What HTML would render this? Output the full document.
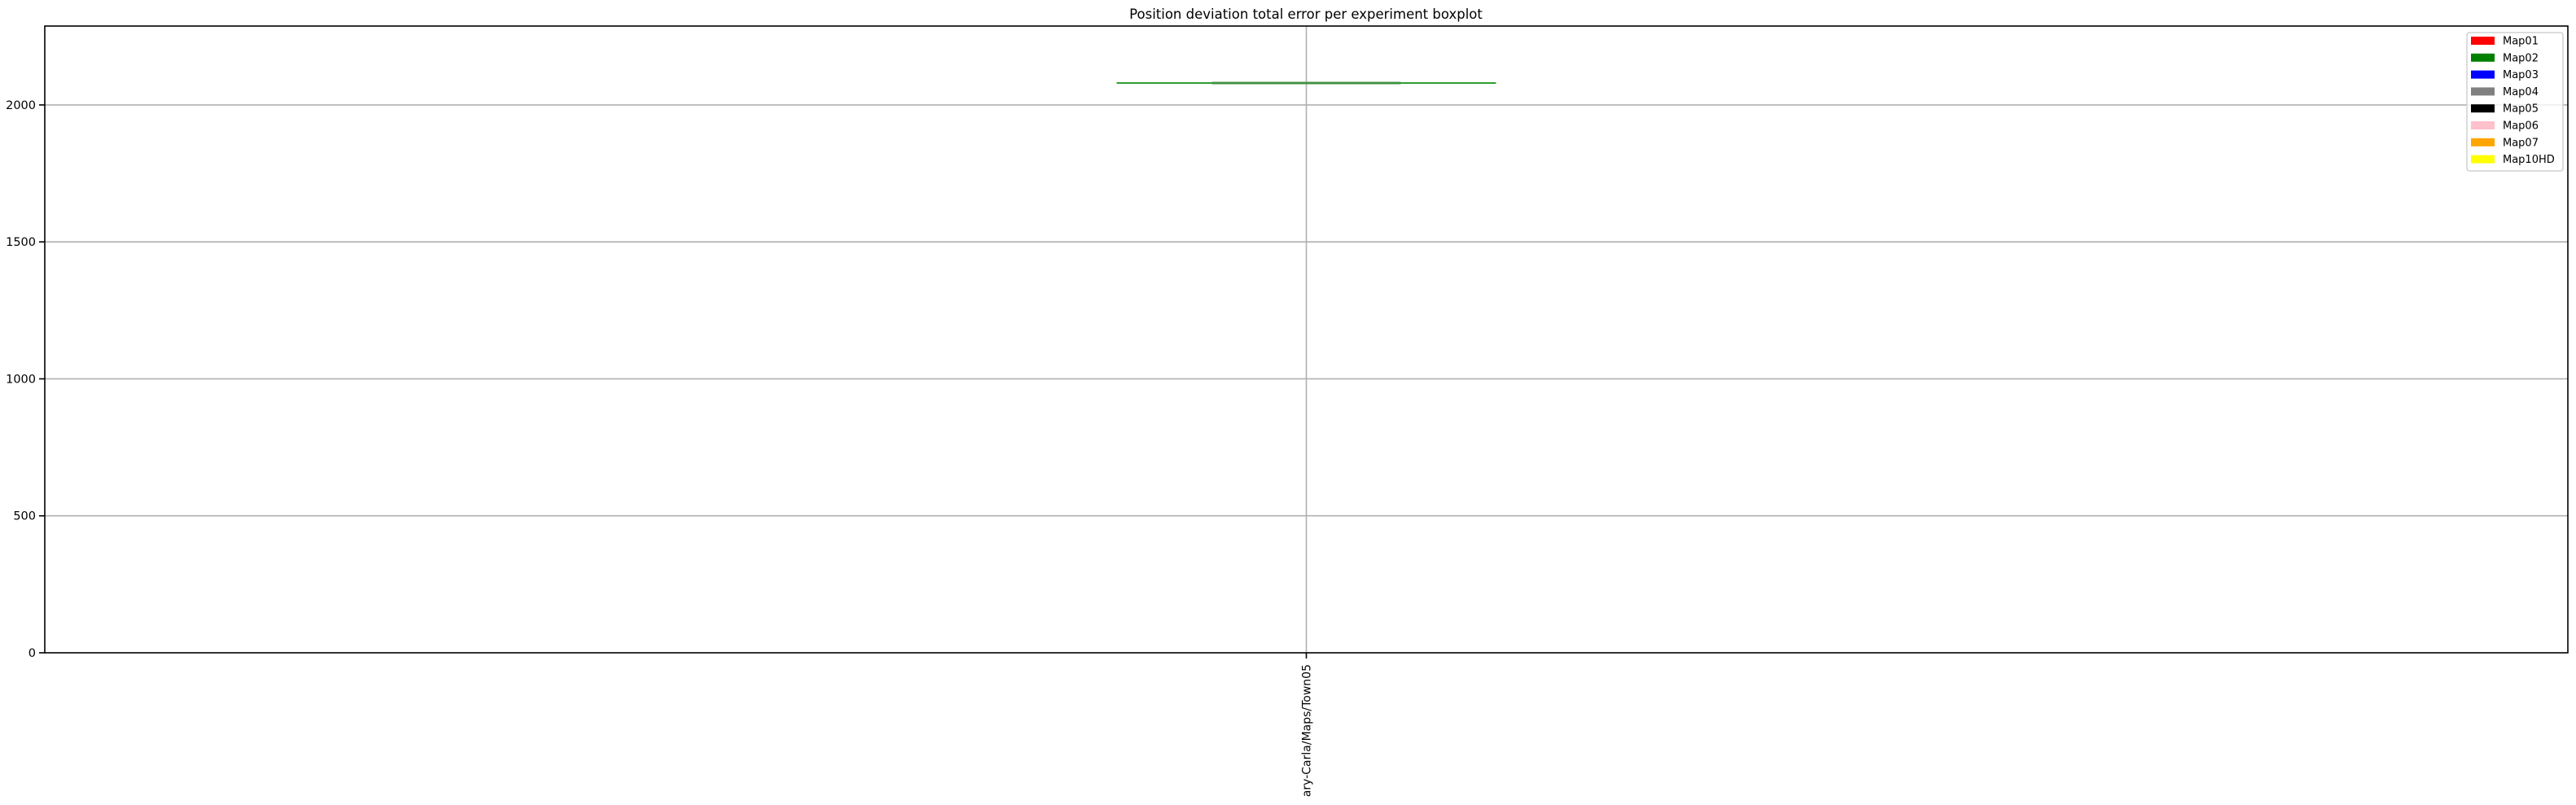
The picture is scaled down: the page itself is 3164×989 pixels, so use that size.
<!DOCTYPE html>
<html><head><meta charset="utf-8"><style>
html,body{margin:0;padding:0;background:#fff;}
svg{display:block;font-family:"DejaVu Sans","Liberation Sans",sans-serif;}
</style></head><body>
<svg id="chart" width="3164" height="989" viewBox="0 0 3164 989" xmlns="http://www.w3.org/2000/svg">
<rect width="3164" height="989" fill="#fff"/>
<text x="1604" y="23" font-size="16.5" text-anchor="middle" fill="#000">Position deviation total error per experiment boxplot</text>
<g id="grid"></g>
<g id="boxes"></g>
<g id="yaxis"></g>
<g id="xaxis"></g>
<rect x="55" y="32" width="3099" height="770" fill="none" stroke="#000" stroke-width="1.6"/>
<g id="legend"></g>
</svg>
<script>
const categories = ["ary-Carla/Maps/Town05"];
const whiskerLow = [2080];
const q1 = [2080];
const median = [2080];
const q3 = [2080];
const whiskerHigh = [2080];
const yTicks = [0, 500, 1000, 1500, 2000];
const legendLabels = ["Map01","Map02","Map03","Map04","Map05","Map06","Map07","Map10HD"];
const legendColors = ["red","green","blue","gray","black","pink","orange","yellow"];

const NS = "http://www.w3.org/2000/svg";
const L = 55, R = 3154, T = 32, B = 802, YMAX = 2288;
function y(v){ return B - v / YMAX * (B - T); }
function x(i){ return L + (i + 0.5) * (R - L) / categories.length; }
function mk(tag, attrs, parent){ const e = document.createElementNS(NS, tag); for (const k in attrs) e.setAttribute(k, attrs[k]); parent.appendChild(e); return e; }

const grid = document.getElementById('grid');
const ya = document.getElementById('yaxis');
yTicks.forEach(t => {
  const yy = y(t);
  if (t > 0) {
    const g = mk('line', {x1: L, x2: R, y1: yy, y2: yy, stroke: '#b0b0b0', 'stroke-width': 1.6}, grid);
    
    
  }
  const tk = mk('line', {x1: L - 7, x2: L, y1: yy, y2: yy, stroke: '#000', 'stroke-width': 1.6}, ya);
  
  
  const tx = mk('text', {x: L - 11, y: yy + 5, 'font-size': 14.5, 'text-anchor': 'end'}, ya);
  tx.textContent = t;
  
  
});

const xa = document.getElementById('xaxis');
const bx = document.getElementById('boxes');
categories.forEach((c, i) => {
  const cx = x(i);
  const gl = mk('line', {x1: cx, x2: cx, y1: T, y2: B, stroke: '#b0b0b0', 'stroke-width': 1.6}, grid);
  
  
  const tk = mk('line', {x1: cx, x2: cx, y1: B, y2: B + 7, stroke: '#000', 'stroke-width': 1.6}, xa);
  
  
  const tx = mk('text', {x: 0, y: 0, 'font-size': 14, 'text-anchor': 'end', transform: `translate(${cx + 5},${B + 14}) rotate(-90)`}, xa);
  tx.textContent = c;
  
  
  const wl = mk('line', {x1: cx - 233, x2: cx + 233, y1: y(whiskerLow[i]), y2: y(whiskerHigh[i]), stroke: '#2ca02c', 'stroke-width': 2}, bx);
  
  
  const bh = Math.max(y(q1[i]) - y(q3[i]), 3);
  const box = mk('rect', {x: cx - 116, y: (y(q1[i]) + y(q3[i])) / 2 - bh / 2, width: 232, height: bh, fill: '#4c9a4c', stroke: 'none'}, bx);
  
  
  const md = mk('line', {x1: cx - 116, x2: cx + 116, y1: y(median[i]), y2: y(median[i]), stroke: '#3d8f3d', 'stroke-width': 1.5}, bx);
  
  
});

const lg = document.getElementById('legend');
const lb = mk('rect', {x: 3030, y: 40, width: 118, height: 170, rx: 3, fill: '#fff', 'fill-opacity': 0.8, stroke: '#d0d0d0', 'stroke-width': 1.5}, lg);


legendLabels.forEach((lab, i) => {
  const cy = 50 + i * 20.8;
  const p = mk('rect', {x: 3035, y: cy - 5, width: 29, height: 10, fill: legendColors[i]}, lg);
  
  
  const t = mk('text', {x: 3074, y: cy + 4.5, 'font-size': 13}, lg);
  t.textContent = lab;
  
  
});
</script>
</body></html>
